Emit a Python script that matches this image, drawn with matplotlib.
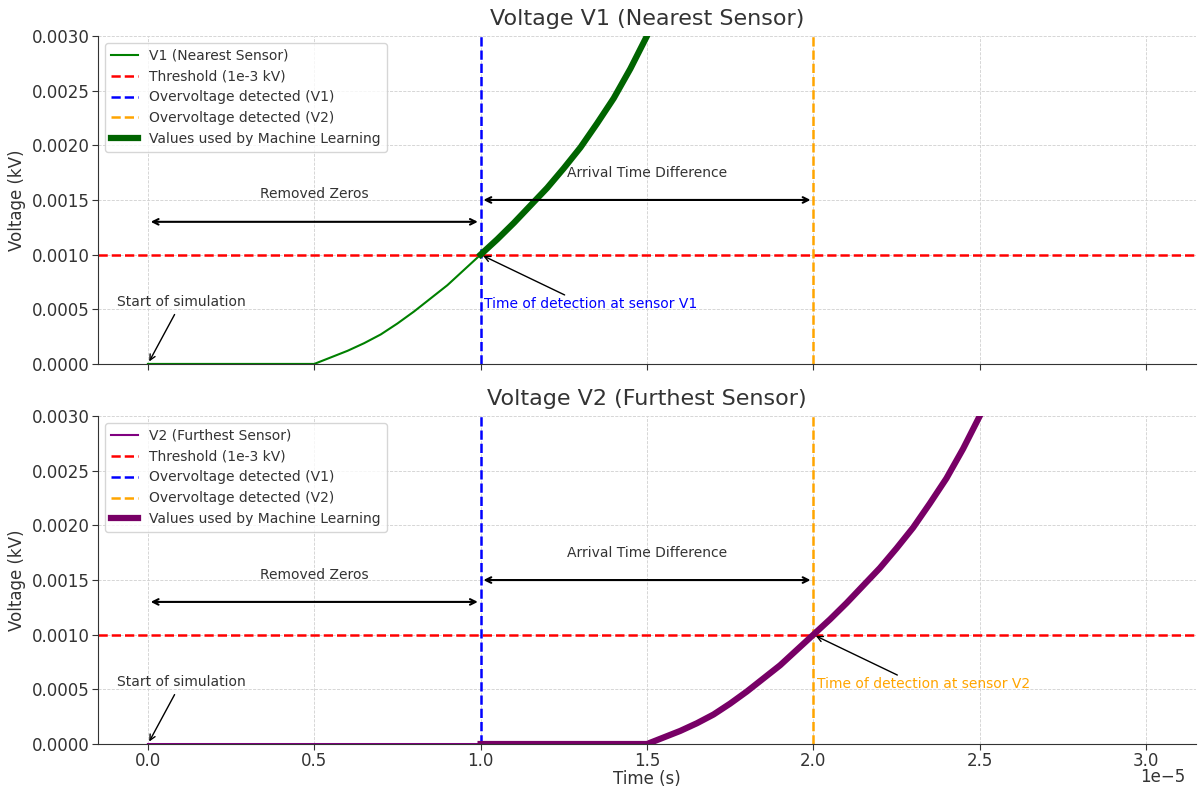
import matplotlib
matplotlib.use("Agg")
import matplotlib.pyplot as plt
import numpy as np

# Time base (in units of 1e-5 s) and sensor voltages in kV
t_v1 = [0.0, 0.5, 0.55, 0.6, 0.65, 0.7, 0.75, 0.8, 0.85, 0.9, 0.95, 1.0,
        1.05, 1.1, 1.15, 1.2, 1.25, 1.3, 1.35, 1.4, 1.45, 1.5]
v1 = [0.0, 0.0, 0.00006, 0.00012, 0.00019, 0.00027, 0.00037, 0.00048,
      0.00060, 0.00072, 0.00086, 0.00100, 0.00114, 0.00129, 0.00145,
      0.00161, 0.00179, 0.00198, 0.00220, 0.00243, 0.00270, 0.00300]

t_v2 = [0.0, 1.0, 1.5, 1.55, 1.6, 1.65, 1.7, 1.75, 1.8, 1.85, 1.9, 1.95, 2.0,
        2.05, 2.1, 2.15, 2.2, 2.25, 2.3, 2.35, 2.4, 2.45, 2.5]
v2 = [0.0, 0.0, 0.0, 0.00006, 0.00012, 0.00019, 0.00027, 0.00037, 0.00048,
      0.00060, 0.00072, 0.00086, 0.00100, 0.00114, 0.00129, 0.00145,
      0.00161, 0.00179, 0.00198, 0.00220, 0.00243, 0.00270, 0.00300]

threshold = 1e-3
t_detect_v1 = 1.0e-5
t_detect_v2 = 2.0e-5

t_v1 = np.array(t_v1) * 1e-5
t_v2 = np.array(t_v2) * 1e-5
v1 = np.array(v1)
v2 = np.array(v2)

plt.rcParams.update({
    "font.family": "DejaVu Sans",
    "text.color": "#333333",
    "axes.labelcolor": "#333333",
    "xtick.color": "#333333",
    "ytick.color": "#333333",
    "axes.edgecolor": "#333333",
})

fig, (ax1, ax2) = plt.subplots(2, 1, figsize=(12.01, 7.89), dpi=100, sharex=True)
fig.subplots_adjust(left=0.0816, right=0.9958, top=0.9544, bottom=0.057, hspace=0.159)

panels = [
    (ax1, t_v1, v1, "green", "darkgreen", "V1 (Nearest Sensor)",
     "Voltage V1 (Nearest Sensor)", t_detect_v1, "blue", "Time of detection at sensor V1"),
    (ax2, t_v2, v2, "purple", "#780066", "V2 (Furthest Sensor)",
     "Voltage V2 (Furthest Sensor)", t_detect_v2, "orange", "Time of detection at sensor V2"),
]

for ax, t, v, col, ml_col, lab, title, t_det, det_col, det_text in panels:
    ax.plot(t, v, color=col, linewidth=1.5, label=lab)
    ax.axhline(threshold, color="red", linestyle="--", linewidth=1.8, label="Threshold (1e-3 kV)")
    ax.axvline(t_detect_v1, color="blue", linestyle="--", linewidth=1.8, label="Overvoltage detected (V1)")
    ax.axvline(t_detect_v2, color="orange", linestyle="--", linewidth=1.8, label="Overvoltage detected (V2)")
    ml = t >= t_detect_v1
    ax.plot(t[ml], v[ml], color=ml_col, linewidth=4.5, label="Values used by Machine Learning")

    # Start of simulation
    ax.annotate("Start of simulation", xy=(0, 0), xytext=(0.1e-5, 0.0005),
                ha="center", va="bottom", fontsize=10,
                arrowprops=dict(arrowstyle="->", color="black", lw=1))
    # Removed zeros span
    ax.annotate("", xy=(0, 0.0013), xytext=(t_detect_v1, 0.0013),
                arrowprops=dict(arrowstyle="<->", color="black", lw=1.5))
    ax.text(0.5e-5, 0.00155, "Removed Zeros", ha="center", va="center", fontsize=10)
    # Arrival time difference span
    ax.annotate("", xy=(t_detect_v1, 0.0015), xytext=(t_detect_v2, 0.0015),
                arrowprops=dict(arrowstyle="<->", color="black", lw=1.5))
    ax.text(1.5e-5, 0.00175, "Arrival Time Difference", ha="center", va="center", fontsize=10)
    # Detection point
    ax.annotate("", xy=(t_det, threshold), xytext=(t_det + 0.26e-5, 0.00062),
                arrowprops=dict(arrowstyle="->", color="black", lw=1))
    ax.text(t_det + 0.01e-5, 0.00055, det_text, color=det_col, ha="left", va="center", fontsize=10)

    ax.set_title(title, fontsize=16, pad=8)
    ax.set_ylabel("Voltage (kV)", fontsize=12)
    ax.set_ylim(0, 0.003)
    ax.set_xlim(-0.15e-5, 3.15e-5)
    ax.set_yticks(np.arange(0, 0.00301, 0.0005))
    ax.grid(True, linestyle="--", linewidth=0.6, color="#d0d0d0")
    ax.set_axisbelow(True)
    for side in ("top", "right"):
        ax.spines[side].set_visible(False)
    ax.tick_params(labelsize=12, length=4, pad=2)
    ax.legend(loc="upper left", fontsize=10)

ax1.tick_params(labelbottom=False)
ax2.set_xlabel("Time (s)", fontsize=12, labelpad=0)

# place the x-axis multiplier a bit higher so it stays inside the figure
fig.canvas.draw()
offset = ax2.xaxis.get_offset_text().get_text()
ax2.xaxis.get_offset_text().set_visible(False)
ax2.text(0.99, -0.101, offset, transform=ax2.transAxes, ha="right", va="center",
         fontsize=12, color="#333333")

plt.savefig("out.png", dpi=100)
